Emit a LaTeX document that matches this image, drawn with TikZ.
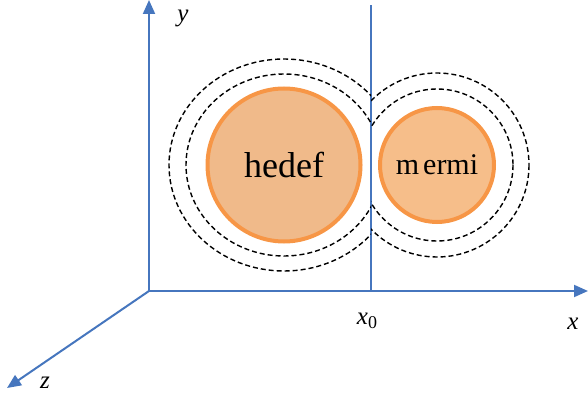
\documentclass[tikz,border=0pt]{standalone}
\usepackage{fontspec}
\setmainfont{Liberation Serif}
\usetikzlibrary{arrows.meta,positioning}
\definecolor{axisblue}{RGB}{70,118,190}
\definecolor{ballrim}{RGB}{247,150,70}
\definecolor{hedeffill}{RGB}{240,186,138}
\definecolor{mermifill}{RGB}{246,190,138}

\begin{document}
\begin{tikzpicture}[x=1pt,y=-1pt,
  axis/.style={draw=axisblue,line width=2pt,-{Triangle[length=14pt,width=12pt]}},
  ball/.style={circle,draw=ballrim,line width=4pt,inner sep=0pt},
  field/.style={black,line width=1.4pt,dash pattern=on 5pt off 3pt},
  lbl/.style={font=\fontsize{25}{28}\selectfont\itshape,inner sep=0pt}
]
\useasboundingbox (0,0) rectangle (588,403);
% axes
\coordinate (O) at (149,291);
\coordinate (xend) at (588,291);
\coordinate (yend) at (149,0);
\coordinate (zend) at (7,388);
\draw[axis] (O) -- (xend);
\draw[axis] (O) -- (yend);
\draw[axis] (O) -- (zend);
% the line at x0
\coordinate (x0) at (371,291);
\coordinate (x0top) at (371,5);
\draw[axisblue,line width=1.5pt] (x0) -- (x0top);
% balls
\node[ball,fill=hedeffill,minimum size=153pt] (hedef) at (284,165)
  {\fontsize{36}{40}\selectfont hedef};
\node[ball,fill=mermifill,minimum size=114pt] (mermi) at (437,165)
  {\fontsize{30}{34}\selectfont m\kern4pt ermi};
% dashed fields
\begin{scope}
  \clip (0,0) rectangle (x0);
  \draw[field] (hedef.center) ellipse [x radius=98, y radius=91];
  \draw[field] (hedef.center) ellipse [x radius=115, y radius=106];
\end{scope}
\begin{scope}
  \clip (x0top) rectangle (588,291);
  \draw[field] (mermi.center) circle [radius=76];
  \draw[field] (mermi.center) circle [radius=92];
\end{scope}
% labels
\node[lbl] (ylbl) at (183,18) {y};
\node[lbl] (xlbl) at (573,324) {x};
\node[lbl] (zlbl) at (45,383) {z};
\node[lbl] (x0lbl) at (367,321) {x\raisebox{-0.35ex}{\upshape\fontsize{18}{20}\selectfont 0}};
\end{tikzpicture}
\end{document}
